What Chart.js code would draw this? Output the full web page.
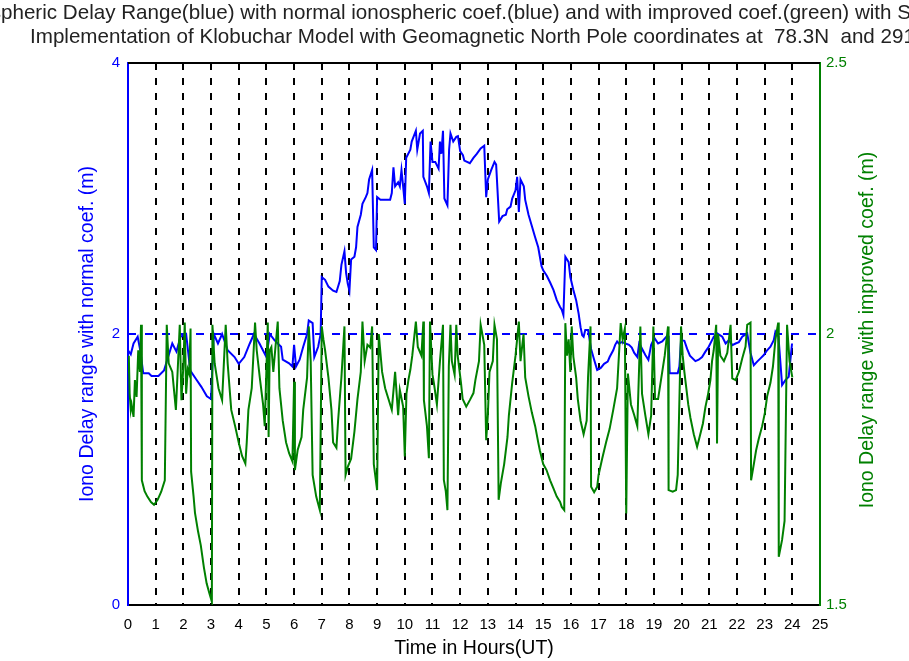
<!DOCTYPE html>
<html>
<head>
<meta charset="utf-8">
<script src="https://cdn.jsdelivr.net/npm/chart.js@4.4.0/dist/chart.umd.min.js"></script>
<style>
  html, body { margin: 0; padding: 0; background: #fff; }
  #wrap { width: 909px; height: 661px; }
</style>
</head>
<body>
<div id="wrap"><canvas id="iono-chart" width="909" height="661"></canvas></div>
<script>
// iono delay range with the normal Klobuchar coefficients (blue, left axis, m)
const blueHours = [0, 0.1, 0.2, 0.35, 0.45, 0.55, 0.75, 0.85, 1.1, 1.3, 1.6, 1.75, 1.9, 2.1, 2.25, 2.45, 2.65, 2.85, 3.0, 3.1,
  3.25, 3.4, 3.6, 3.85, 4.0, 4.2, 4.4, 4.55, 4.75, 5.0, 5.12, 5.29, 5.53, 5.59, 5.82, 5.94, 6.0, 6.07, 6.2, 6.33,
  6.47, 6.53, 6.67, 6.73, 6.87, 6.96, 7.0, 7.12, 7.24, 7.41, 7.53, 7.65, 7.71, 7.82, 7.88, 7.94, 8.0, 8.06, 8.18, 8.24,
  8.29, 8.41, 8.47, 8.59, 8.65, 8.71, 8.82, 8.88, 8.96, 9.0, 9.12, 9.47, 9.53, 9.59, 9.65, 9.76, 9.82, 9.88, 9.94, 10.0,
  10.05, 10.2, 10.25, 10.4, 10.45, 10.55, 10.65, 10.67, 10.8, 10.87, 10.93, 11.0, 11.1, 11.22, 11.27, 11.32, 11.38, 11.43, 11.54, 11.6,
  11.65, 11.75, 11.86, 11.92, 12.0, 12.1, 12.15, 12.35, 12.48, 12.6, 12.74, 12.87, 12.94, 13.0, 13.12, 13.24, 13.3, 13.41, 13.53, 13.65,
  13.7, 13.82, 13.88, 14.0, 14.06, 14.12, 14.18, 14.3, 14.35, 14.47, 14.6, 14.7, 14.82, 14.88, 14.94, 15.0, 15.13, 15.25, 15.37, 15.49,
  15.61, 15.67, 15.73, 15.8, 15.92, 15.98, 16.09, 16.19, 16.28, 16.35, 16.41, 16.46, 16.52, 16.62, 16.73, 16.84, 16.95, 17.08, 17.2, 17.33,
  17.4, 17.53, 17.6, 17.67, 17.73, 17.85, 17.97, 18.1, 18.2, 18.29, 18.4, 18.48, 18.52, 18.55, 18.69, 18.8, 18.9, 19.02, 19.15, 19.3,
  19.45, 19.53, 19.57, 19.86, 19.92, 19.98, 20.1, 20.2, 20.3, 20.5, 20.62, 20.74, 20.86, 20.98, 21.1, 21.16, 21.28, 21.47, 21.59, 21.71,
  21.83, 21.95, 22.07, 22.19, 22.37, 22.49, 22.61, 22.73, 22.85, 22.97, 23.09, 23.21, 23.33, 23.39, 23.5, 23.63, 23.75, 23.87, 23.99];
const blueRange = [1.88, 1.85, 1.93, 1.98, 1.87, 1.71, 1.71, 1.69, 1.69, 1.73, 1.93, 1.87, 1.98, 2.0, 1.73, 1.67, 1.61, 1.54, 1.52, 2.0,
  1.93, 2.0, 1.88, 1.83, 1.78, 1.83, 1.93, 2.0, 1.93, 1.83, 2.0, 1.955, 1.906, 1.81, 1.784, 1.76, 1.92, 1.76, 1.81, 1.906,
  2.0, 2.1, 2.08, 1.83, 1.906, 2.0, 2.42, 2.40, 2.35, 2.32, 2.31, 2.39, 2.51, 2.61, 2.45, 2.37, 2.32, 2.55, 2.57, 2.64,
  2.79, 2.88, 2.96, 3.01, 3.04, 3.14, 3.21, 2.64, 2.62, 3.01, 2.99, 2.99, 3.04, 3.23, 3.09, 3.12, 3.09, 3.21, 3.09, 2.96,
  3.30, 3.36, 3.42, 3.50, 3.36, 3.48, 3.50, 3.16, 3.09, 3.04, 3.42, 3.27, 3.27, 3.22, 3.42, 3.33, 3.50, 3.00, 2.95, 3.36,
  3.48, 3.42, 3.455, 3.46, 3.35, 3.32, 3.28, 3.26, 3.30, 3.33, 3.37, 3.39, 3.01, 3.14, 3.21, 3.27, 3.25, 2.83, 2.87, 2.88,
  2.92, 2.94, 3.0, 3.06, 3.16, 2.9, 3.14, 3.09, 2.99, 2.88, 2.79, 2.72, 2.64, 2.57, 2.50, 2.47, 2.43, 2.38, 2.325, 2.25,
  2.20, 2.18, 2.14, 2.57, 2.53, 2.42, 2.325, 2.25, 2.15, 2.05, 1.99, 1.98, 2.03, 2.03, 1.89, 1.81, 1.735, 1.75, 1.78, 1.796,
  1.83, 1.88, 1.92, 1.945, 1.93, 1.94, 1.93, 1.92, 1.90, 1.86, 1.83, 1.95, 1.81, 1.90, 1.845, 1.81, 1.92, 1.97, 1.93, 1.945,
  1.98, 1.98, 1.71, 1.71, 1.76, 1.955, 1.95, 1.89, 1.84, 1.80, 1.81, 1.83, 1.87, 1.906, 1.955, 1.98, 2.005, 1.98, 1.93, 1.955,
  1.918, 1.93, 1.94, 1.98, 2.005, 1.86, 1.77, 1.796, 1.82, 1.845, 1.88, 1.906, 1.955, 2.017, 1.98, 1.624, 1.66, 1.685, 1.93];

// iono delay range with the improved coefficients (green, right axis, m)
const greenHours = [0, 0.03, 0.06, 0.1, 0.13, 0.2, 0.25, 0.31, 0.37, 0.43, 0.47, 0.5, 0.6, 0.7, 0.83, 0.94, 1.07, 1.2, 1.33, 1.4,
  1.47, 1.6, 1.73, 1.87, 1.93, 2.0, 2.05, 2.1, 2.16, 2.21, 2.26, 2.28, 2.37, 2.42, 2.53, 2.63, 2.74, 2.84, 2.95, 3.03,
  3.05, 3.13, 3.27, 3.4, 3.53, 3.6, 3.73, 3.87, 4.0, 4.12, 4.24, 4.29, 4.35, 4.47, 4.59, 4.65, 4.76, 4.88, 4.94, 5.05,
  5.08, 5.12, 5.18, 5.25, 5.3, 5.41, 5.47, 5.59, 5.71, 5.82, 5.94, 6.0, 6.03, 6.13, 6.27, 6.33, 6.47, 6.53, 6.6, 6.67,
  6.8, 6.93, 7.0, 7.06, 7.12, 7.24, 7.35, 7.41, 7.53, 7.59, 7.71, 7.82, 7.86, 7.94, 8.06, 8.18, 8.29, 8.41, 8.47, 8.55,
  8.65, 8.75, 8.82, 8.88, 9.0, 9.06, 9.18, 9.29, 9.41, 9.53, 9.65, 9.76, 9.82, 9.94, 10.0, 10.06, 10.13, 10.2, 10.27, 10.4,
  10.47, 10.6, 10.67, 10.69, 10.8, 10.87, 10.91, 11.0, 11.05, 11.16, 11.27, 11.38, 11.41, 11.48, 11.54, 11.59, 11.65, 11.7, 11.8, 11.86,
  11.91, 12.03, 12.09, 12.22, 12.35, 12.48, 12.55, 12.68, 12.74, 12.87, 12.94, 13.0, 13.06, 13.18, 13.24, 13.33, 13.39, 13.47, 13.59, 13.71,
  13.76, 13.88, 14.0, 14.12, 14.18, 14.29, 14.35, 14.47, 14.59, 14.71, 14.82, 14.88, 15.0, 15.12, 15.25, 15.37, 15.49, 15.61, 15.67, 15.76,
  15.8, 15.86, 15.92, 15.98, 16.03, 16.09, 16.19, 16.25, 16.35, 16.46, 16.57, 16.62, 16.71, 16.73, 16.84, 16.95, 17.0, 17.13, 17.27, 17.4,
  17.53, 17.67, 17.8, 17.87, 17.95, 18.0, 18.06, 18.17, 18.29, 18.4, 18.51, 18.57, 18.69, 18.8, 18.9, 18.98, 19.04, 19.15, 19.27, 19.39,
  19.51, 19.53, 19.68, 19.8, 19.86, 19.98, 20.04, 20.1, 20.17, 20.24, 20.32, 20.44, 20.56, 20.65, 20.77, 20.86, 20.96, 21.04, 21.1, 21.16,
  21.25, 21.28, 21.32, 21.4, 21.53, 21.65, 21.77, 21.83, 21.95, 22.07, 22.19, 22.31, 22.37, 22.49, 22.51, 22.61, 22.69, 22.79, 22.91, 23.01,
  23.09, 23.21, 23.3, 23.39, 23.49, 23.51, 23.63, 23.72, 23.81, 23.9, 24.0];
const greenRange = [1.93, 1.96, 1.89, 1.86, 1.87, 1.847, 1.915, 1.884, 1.97, 1.93, 2.017, 1.73, 1.71, 1.70, 1.69, 1.685, 1.694, 1.709, 1.73, 2.017,
  1.946, 1.93, 1.86, 2.017, 1.878, 1.94, 2.021, 1.89, 1.935, 1.927, 2.01, 1.746, 1.70, 1.67, 1.636, 1.61, 1.57, 1.54, 1.52, 1.506,
  2.017, 1.946, 1.90, 1.878, 2.017, 1.946, 1.86, 1.83, 1.80, 1.775, 1.761, 1.80, 1.86, 1.90, 2.021, 1.97, 1.92, 1.87, 1.83, 2.021,
  1.81, 1.97, 1.976, 1.93, 1.96, 2.023, 1.90, 1.84, 1.80, 1.78, 1.765, 1.912, 1.749, 1.786, 1.81, 1.86, 1.92, 2.014, 1.95, 1.74,
  1.70, 1.675, 2.014, 1.99, 1.97, 1.92, 1.86, 1.80, 1.79, 1.84, 1.92, 2.014, 1.74, 1.755, 1.77, 1.82, 1.88, 1.93, 2.023, 1.95,
  1.98, 1.975, 2.014, 1.76, 1.712, 2.0, 1.93, 1.90, 1.88, 1.86, 1.93, 1.85, 1.897, 1.866, 1.774, 1.89, 1.915, 1.934, 1.96, 2.023,
  1.976, 1.96, 2.023, 1.878, 1.83, 1.771, 2.023, 1.925, 1.91, 1.87, 1.95, 2.017, 1.731, 1.71, 1.675, 1.94, 2.017, 1.95, 1.925, 2.017,
  1.96, 1.91, 1.88, 1.866, 1.878, 1.891, 1.915, 1.95, 2.017, 1.98, 1.804, 1.85, 1.93, 1.95, 2.017, 1.99, 1.694, 1.725, 1.76, 1.81,
  1.85, 1.91, 1.96, 2.023, 1.95, 2.0, 1.92, 1.885, 1.855, 1.83, 1.80, 1.785, 1.76, 1.749, 1.73, 1.715, 1.70, 1.69, 1.681, 1.675,
  2.02, 1.96, 1.99, 1.93, 2.014, 1.958, 1.92, 1.88, 1.84, 1.815, 1.84, 1.92, 2.014, 1.718, 1.708, 1.718, 1.74, 1.77, 1.80, 1.825,
  1.86, 1.90, 2.02, 1.99, 2.01, 1.669, 1.927, 1.87, 1.85, 1.83, 2.014, 1.89, 1.85, 1.815, 1.85, 2.014, 1.88, 1.88, 1.92, 1.96,
  2.014, 1.712, 1.709, 1.712, 1.74, 2.014, 1.96, 1.93, 1.90, 1.87, 1.845, 1.815, 1.792, 1.81, 1.835, 1.865, 1.89, 1.915, 1.95, 1.97,
  2.017, 1.798, 2.0, 1.96, 1.95, 1.965, 2.017, 1.918, 1.915, 1.93, 1.955, 1.977, 2.017, 2.021, 1.73, 1.76, 1.785, 1.807, 1.83, 1.855,
  1.885, 1.91, 1.94, 1.99, 2.021, 1.589, 1.62, 1.655, 2.017, 1.95, 1.92];

// dashed reference level on the left axis
const refHours = [0, 25];
const refRange = [2, 2];

const titleLines = [
  'Ionospheric Delay Range(blue) with normal ionospheric coef.(blue) and with improved coef.(green) with SA off',
  'Implementation of Klobuchar Model with Geomagnetic North Pole coordinates at  78.3N  and 291.0E'
];
const leftTitle = 'Iono Delay range with normal coef. (m)';
const rightTitle = 'Iono Delay range with improved coef. (m)';
const xTitle = 'Time in Hours(UT)';

const FONT = '"Liberation Sans", Arial, Helvetica, sans-serif';

function toPoints(xs, ys) {
    return xs.map((x, i) => ({x: x, y: ys[i]}));
}

// titles, rotated axis labels and the top frame line
const decorPlugin = {
    id: 'decor',
    afterDraw(chart) {
        const ctx = chart.ctx;
        const area = chart.chartArea;
        ctx.save();
        ctx.strokeStyle = '#000';
        ctx.lineWidth = 2;
        ctx.beginPath();
        ctx.moveTo(area.left, area.top);
        ctx.lineTo(area.right, area.top);
        ctx.stroke();

        ctx.fillStyle = '#222';
        ctx.textBaseline = 'middle';
        ctx.textAlign = 'left';
        ctx.font = '20.6px ' + FONT;
        ctx.fillText(titleLines[0], 1 - ctx.measureText('Ionos').width, 13);
        ctx.fillText(titleLines[1], 30, 37);

        const midY = (area.top + area.bottom) / 2;
        ctx.font = '19.5px ' + FONT;
        ctx.textAlign = 'center';

        ctx.save();
        ctx.translate(88, midY);
        ctx.rotate(-Math.PI / 2);
        ctx.fillStyle = '#0000ff';
        ctx.fillText(leftTitle, 0, 0);
        ctx.restore();

        ctx.save();
        ctx.translate(868, midY - 4);
        ctx.rotate(-Math.PI / 2);
        ctx.fillStyle = '#008000';
        ctx.fillText(rightTitle, 0, 0);
        ctx.restore();

        ctx.restore();
    }
};

const ctx = document.getElementById('iono-chart').getContext('2d');

new Chart(ctx, {
    type: 'line',
    data: {
        datasets: [
            {
                label: 'improved coef.',
                data: toPoints(greenHours, greenRange),
                yAxisID: 'yR',
                borderColor: '#008000',
                borderWidth: 2,
                pointRadius: 0,
                tension: 0,
                order: 1
            },
            {
                label: 'level',
                data: toPoints(refHours, refRange),
                yAxisID: 'yL',
                borderColor: '#0000ff',
                borderWidth: 2,
                borderDash: [8, 9],
                pointRadius: 0,
                order: 2
            },
            {
                label: 'normal coef.',
                data: toPoints(blueHours, blueRange),
                yAxisID: 'yL',
                borderColor: '#0000ff',
                borderWidth: 2,
                pointRadius: 0,
                tension: 0,
                order: 3
            }
        ]
    },
    options: {
        responsive: false,
        animation: false,
        events: [],
        layout: { padding: { top: 63, left: 0, right: 0, bottom: 0 } },
        plugins: {
            legend: { display: false },
            tooltip: { enabled: false }
        },
        scales: {
            x: {
                type: 'linear',
                min: 0,
                max: 25,
                ticks: {
                    stepSize: 1,
                    autoSkip: false,
                    maxRotation: 0,
                    color: '#000',
                    padding: 11,
                    font: { family: FONT, size: 15 }
                },
                grid: {
                    drawTicks: false,
                    lineWidth: 2,
                    color: (c) => (c.tick && (c.tick.value === 0 || c.tick.value === 25)) ? 'rgba(0,0,0,0)' : '#000'
                },
                border: { color: '#000', width: 2, dash: [7, 8] },
                title: {
                    display: true,
                    text: xTitle,
                    color: '#000',
                    font: { family: FONT, size: 19.5 },
                    padding: { top: 0, bottom: 1 }
                },
                afterFit: (scale) => { scale.height = 56; }
            },
            yL: {
                position: 'left',
                min: 0,
                max: 4,
                ticks: { stepSize: 2, color: '#0000ff', padding: 8, font: { family: FONT, size: 15 } },
                grid: { display: false, drawTicks: false },
                border: { color: '#0000ff', width: 2 },
                afterFit: (scale) => { scale.width = 128; }
            },
            yR: {
                position: 'right',
                min: 1.5,
                max: 2.5,
                ticks: {
                    stepSize: 0.5,
                    color: '#008000',
                    padding: 6,
                    font: { family: FONT, size: 15 },
                    callback: (value) => String(value)
                },
                grid: { display: false, drawTicks: false },
                border: { color: '#008000', width: 2 },
                afterFit: (scale) => { scale.width = 89; }
            }
        }
    },
    plugins: [decorPlugin]
});
</script>
</body>
</html>
